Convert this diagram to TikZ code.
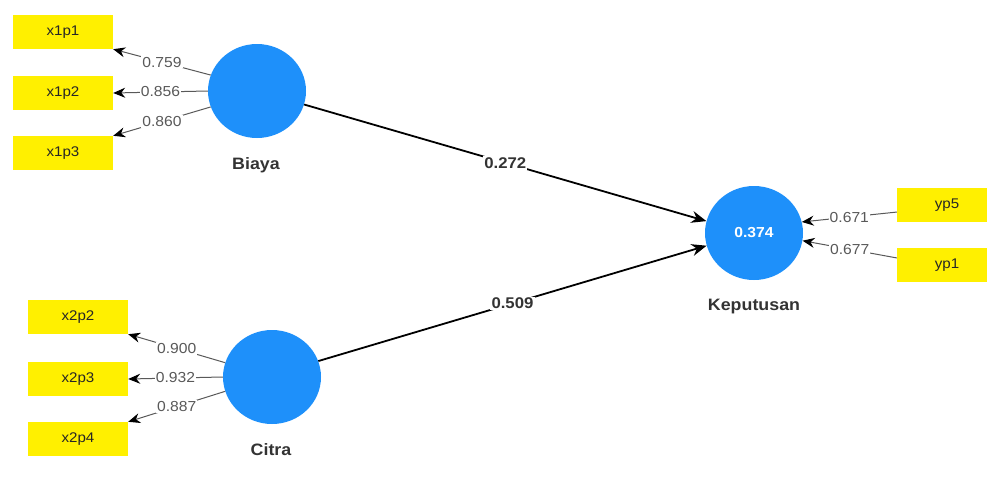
\documentclass[tikz,border=0pt]{standalone}
\usepackage{fontspec}
\setmainfont{Liberation Sans}[FakeStretch=1.08]
\usetikzlibrary{arrows.meta,shapes.geometric}
\definecolor{latentblue}{RGB}{30,144,250}
\definecolor{itemyellow}{RGB}{255,240,0}
\tikzset{
  latent/.style={ellipse, fill=latentblue, draw=none, minimum width=98pt, minimum height=94pt, inner sep=0pt},
  item/.style={rectangle, fill=itemyellow, draw=none, minimum width=100pt, minimum height=34pt, inner sep=0pt, text=black!85, font=\fontsize{14}{16}\selectfont},
  lvname/.style={font=\bfseries\fontsize{16.5}{18}\selectfont, text=black!80},
  loadline/.style={draw=black!65, line width=1pt, -{Stealth[length=12pt, width=10pt, color=black]}},
  pathline/.style={draw=black, line width=1.8pt, -{Stealth[length=15pt, width=12pt]}},
  loadlab/.style={fill=white, inner sep=1.2pt, text=black!65, font=\fontsize{14.5}{16}\selectfont},
  pathlab/.style={fill=white, inner sep=1.2pt, text=black!80, font=\bfseries\fontsize{15.5}{17}\selectfont}
}
\begin{document}
\begin{tikzpicture}[x=1pt, y=1pt]
\useasboundingbox (0,0) rectangle (987,-477);
\clip (0,0) rectangle (987,-477);

% latent variables
\node[latent] (biaya) at (257,-91) {};
\node[latent] (citra) at (272,-377) {};
\node[latent, text=white, font=\bfseries\fontsize{14.5}{16}\selectfont] (kep) at (754,-233) {0.374};
\node[lvname] (biayaname) at (256,-165) {Biaya};
\node[lvname] (citraname) at (271,-450) {Citra};
\node[lvname] (kepname) at (754,-307) {Keputusan};

% indicators
\node[item] (x1p1) at (63,-32) {x1p1};
\node[item] (x1p2) at (63,-93) {x1p2};
\node[item] (x1p3) at (63,-153) {x1p3};
\node[item] (x2p2) at (78,-317) {x2p2};
\node[item] (x2p3) at (78,-379) {x2p3};
\node[item] (x2p4) at (78,-439) {x2p4};
\node[item] (yp5) at (947,-205) {yp5};
\node[item] (yp1) at (947,-265) {yp1};

% outer loadings
\draw[loadline] (biaya.161) -- node[loadlab] {0.759} (x1p1.south east);
\draw[loadline] (biaya.west) -- node[loadlab] {0.856} (x1p2.east);
\draw[loadline] (biaya.199) -- node[loadlab] {0.860} (x1p3.north east);
\draw[loadline] (citra.163) -- node[loadlab] {0.900} (x2p2.south east);
\draw[loadline] (citra.west) -- node[loadlab] {0.932} (x2p3.east);
\draw[loadline] (citra.197) -- node[loadlab] {0.887} (x2p4.north east);
\draw[loadline] (yp5.188) -- node[loadlab] {0.671} (kep.13);
\draw[loadline] (yp1.172) -- node[loadlab] {0.677} (kep.-9);

% path coefficients
\draw[pathline] (biaya.-16) -- node[pathlab] {0.272} (kep.166);
\draw[pathline] (citra.19) -- node[pathlab] {0.509} (kep.195);
\end{tikzpicture}
\end{document}
